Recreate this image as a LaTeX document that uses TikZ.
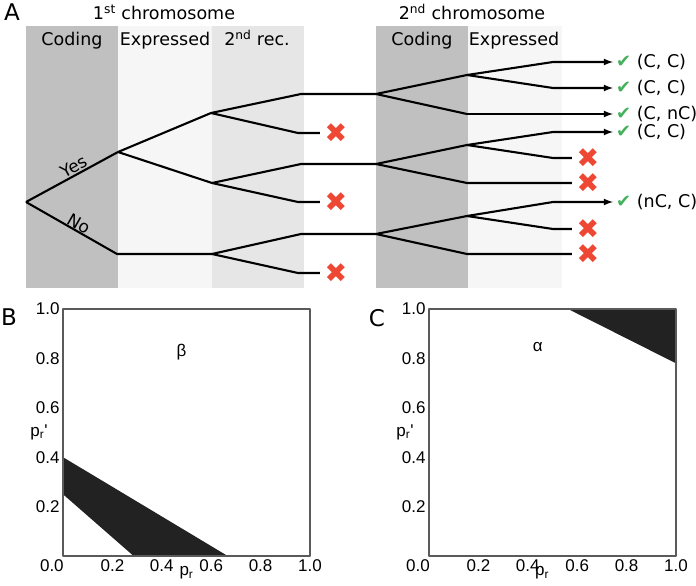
\documentclass[tikz,border=0pt]{standalone}
\usepackage{fontspec}
\setmainfont{DejaVu Sans}
\newfontfamily\plotfont{Liberation Sans}
\definecolor{codgray}{RGB}{192,192,192}
\definecolor{expgray}{RGB}{246,246,246}
\definecolor{recgray}{RGB}{230,230,230}
\definecolor{okgreen}{RGB}{68,176,92}
\definecolor{badred}{RGB}{238,72,52}
\definecolor{regblack}{RGB}{34,34,34}
\definecolor{framegray}{RGB}{90,90,90}
\newcommand\okmark{{\color{okgreen}\fontsize{18}{18}\selectfont ✔}}
\begin{document}
\begin{tikzpicture}[x=1pt,y=-1pt,line join=round,>=latex,
  branch/.style={line width=2.1pt},
  hdr/.style={anchor=base,font=\fontsize{17.5}{20}\selectfont},
  ticklabel/.style={font=\plotfont\fontsize{17}{18}\selectfont},
  panellabel/.style={anchor=base,font=\fontsize{23}{26}\selectfont},
  cross/.style={text=badred,font=\fontsize{27}{27}\selectfont,minimum width=32pt,inner sep=0pt},
  result/.style={anchor=west,inner xsep=3pt,font=\fontsize{17.5}{20}\selectfont}]
\useasboundingbox (0,0) rectangle (696,586);

% A: bands
\fill[codgray](26,26) rectangle (118,288);
\fill[expgray](118,26) rectangle (212,288);
\fill[recgray](212,26) rectangle (304,288);
\fill[codgray](376,26) rectangle (468,288);
\fill[expgray](468,26) rectangle (562,288);

\node[panellabel] (A) at (12,21) {A};
\node[hdr] (chr1) at (164,20) {1\textsuperscript{st} chromosome};
\node[hdr] (chr2) at (472,20) {2\textsuperscript{nd} chromosome};
\node[hdr] (cod1) at (72,46) {Coding};
\node[hdr] (exp1) at (165,46) {Expressed};
\node[hdr] (rec1) at (257,46) {2\textsuperscript{nd} rec.};
\node[hdr] (cod2) at (422,46) {Coding};
\node[hdr] (exp2) at (514,46) {Expressed};

% first chromosome
\coordinate (root) at (26,202);
\coordinate (yes) at (118,152);
\coordinate (no) at (117,254);
\coordinate (a) at (211,113);
\coordinate (b) at (212,183);
\coordinate (c) at (212,254);
\coordinate (a1) at (301,94);
\coordinate (a2) at (298,133);
\coordinate (b1) at (301,164);
\coordinate (b2) at (298,202);
\coordinate (c1) at (301,234);
\coordinate (c2) at (298,273);
\node[cross] (xa) at (336,133) {✖};
\node[cross] (xb) at (336,202) {✖};
\node[cross] (xc) at (336,273) {✖};

% second chromosome
\coordinate (g1) at (376,94);
\coordinate (g2) at (376,164);
\coordinate (g3) at (376,234);
\coordinate (h1) at (467,75);
\coordinate (h2) at (467,114);
\coordinate (k1) at (467,145);
\coordinate (k2) at (467,183);
\coordinate (m1) at (467,216);
\coordinate (m2) at (467,254);
\coordinate (h11) at (553,62);
\coordinate (h12) at (553,88);
\coordinate (k11) at (553,132);
\coordinate (k12) at (553,158);
\coordinate (m11) at (553,202);
\coordinate (m12) at (553,229);
\node[cross] (xk1) at (588,158) {✖};
\node[cross] (xk2) at (588,183) {✖};
\node[cross] (xm1) at (588,229) {✖};
\node[cross] (xm2) at (588,254) {✖};

\node[result] (r1) at (613,62) {\okmark\ (C, C)};
\node[result] (r2) at (613,88) {\okmark\ (C, C)};
\node[result] (r3) at (613,114) {\okmark\ (C, nC)};
\node[result] (r4) at (613,132) {\okmark\ (C, C)};
\node[result] (r5) at (613,202) {\okmark\ (nC, C)};

\draw[branch](root)--node[sloped,above,pos=0.56,inner sep=1pt,font=\fontsize{17}{17}\selectfont]{Yes}(yes);
\draw[branch](root)--node[sloped,above,pos=0.54,inner sep=0pt,font=\fontsize{17}{17}\selectfont]{No}(no)--(c);
\draw[branch](yes)--(a);
\draw[branch](yes)--(b);
\draw[branch](a)--(a1)--(g1);
\draw[branch](a)--(a2)--(xa.west);
\draw[branch](b)--(b1)--(g2);
\draw[branch](b)--(b2)--(xb.west);
\draw[branch](c)--(c1)--(g3);
\draw[branch](c)--(c2)--(xc.west);

\draw[branch](g1)--(h1);
\draw[branch](g1)--(h2);
\draw[branch,->](h1)--(h11)--(r1.west);
\draw[branch,->](h1)--(h12)--(r2.west);
\draw[branch,->](h2)--(r3.west);
\draw[branch](g2)--(k1);
\draw[branch](g2)--(k2)--(xk2.west);
\draw[branch,->](k1)--(k11)--(r4.west);
\draw[branch](k1)--(k12)--(xk1.west);
\draw[branch](g3)--(m1);
\draw[branch](g3)--(m2)--(xm2.west);
\draw[branch,->](m1)--(m11)--(r5.west);
\draw[branch](m1)--(m12)--(xm1.west);

% B
\node[panellabel] (B) at (9,325) {B};
\begin{scope}[xshift=63pt,yshift=-556pt,x=247pt,y=247pt]
\fill[regblack](0,0.4)--(0.667,0)--(0.286,0)--(0,0.25)--cycle;
\draw[framegray,line width=1.2pt](0,0) rectangle (1,1);
\foreach \t in {0.2,0.4,0.6,0.8,1.0}{
  \node[ticklabel,anchor=east] at (0,\t) {\t};
  \node[ticklabel,anchor=north] at (\t,0) {\t};
}
\node[ticklabel,anchor=north] (b0) at (-0.045,0) {0.0};
\node[ticklabel] (bx) at (0.5,-0.069) {p\textsubscript{r}};
\node[ticklabel] (by) at (-0.097,0.502) {p\textsubscript{r}\textquotesingle};
\node[ticklabel] (beta) at (0.48,0.826) {β};
\end{scope}

% C
\node[panellabel] (C) at (377,326) {C};
\begin{scope}[xshift=429pt,yshift=-556pt,x=247pt,y=247pt]
\fill[regblack](0.563,1)--(1,1)--(1,0.78)--cycle;
\draw[framegray,line width=1.2pt](0,0) rectangle (1,1);
\foreach \t in {0.2,0.4,0.6,0.8,1.0}{
  \node[ticklabel,anchor=east] at (0,\t) {\t};
  \node[ticklabel,anchor=north] at (\t,0) {\t};
}
\node[ticklabel,anchor=north] (c0) at (-0.045,0) {0.0};
\node[ticklabel] (cx) at (0.458,-0.069) {p\textsubscript{r}};
\node[ticklabel] (cy) at (-0.097,0.502) {p\textsubscript{r}\textquotesingle};
\node[ticklabel] (alpha) at (0.44,0.846) {α};
\end{scope}
\end{tikzpicture}
\end{document}
